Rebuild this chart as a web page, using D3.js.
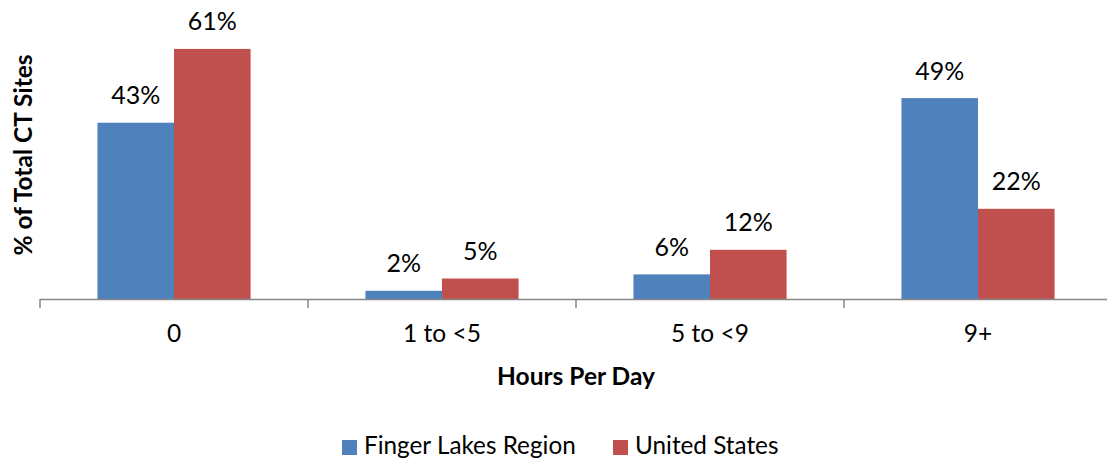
<!DOCTYPE html>
<html>
<head>
<meta charset="utf-8">
<script src="https://cdn.jsdelivr.net/npm/d3@7"></script>
<style>
  html, body { margin: 0; padding: 0; background: #fff; }
  svg { display: block; font-family: Lato, "Open Sans", sans-serif; }
</style>
</head>
<body>
<svg id="chart" width="1107" height="462"></svg>
<script>
// Share of CT sites by hours of use per day
const categories = ["0", "1 to <5", "5 to <9", "9+"];
const seriesNames = ["Finger Lakes Region", "United States"];
const fingerLakes = [43, 2, 6, 49];
const unitedStates = [61, 5, 12, 22];
const seriesColors = ["#4F81BD", "#C0504D"];

const svg = d3.select("#chart");

const x0 = d3.scaleBand().domain(categories).range([40, 1112]).paddingInner(0).paddingOuter(0);
const x1 = d3.scaleBand().domain(seriesNames).range([0, x0.bandwidth()]).paddingInner(0).paddingOuter(0.75);
const y = d3.scaleLinear().domain([0, 70]).range([299, 12]);

const rows = categories.map((c, i) => ({
  cat: c,
  values: [
    { name: seriesNames[0], v: fingerLakes[i], color: seriesColors[0] },
    { name: seriesNames[1], v: unitedStates[i], color: seriesColors[1] }
  ]
}));

const groups = svg.append("g").selectAll("g")
  .data(rows).join("g")
  .attr("transform", d => `translate(${x0(d.cat)},0)`);

groups.selectAll("rect")
  .data(d => d.values).join("rect")
  .attr("x", d => x1(d.name))
  .attr("y", d => y(d.v))
  .attr("width", x1.bandwidth())
  .attr("height", d => y(0) - y(d.v))
  .attr("fill", d => d.color);

groups.selectAll("text.val")
  .data(d => d.values).join("text")
  .attr("class", "val")
  .attr("x", d => x1(d.name) + x1.bandwidth() / 2)
  .attr("y", d => y(d.v) - 18.5)
  .attr("text-anchor", "middle")
  .attr("font-size", 25)
  .attr("fill", "#000")
  .text(d => d.v + "%");

// Category axis along the baseline, with ticks at the category boundaries
const axis = d3.axisBottom(x0).tickSize(0).tickPadding(0);
const gx = svg.append("g").attr("transform", `translate(0,${y(0)})`).call(axis);
gx.select(".domain").remove();
gx.selectAll("text")
  .attr("font-size", 24.5)
  .attr("font-family", "Lato, 'Open Sans', sans-serif")
  .attr("fill", "#000")
  .attr("dy", null)
  .attr("y", 43);

const edges = categories.map(c => x0(c)).concat([x0.range()[1]]);
svg.append("line")
  .attr("x1", x0.range()[0]).attr("x2", x0.range()[1])
  .attr("y1", y(0) + 0.5).attr("y2", y(0) + 0.5)
  .attr("stroke", "#868686").attr("stroke-width", 1.5);
svg.append("g").selectAll("line")
  .data(edges).join("line")
  .attr("x1", d => d).attr("x2", d => d)
  .attr("y1", y(0)).attr("y2", y(0) + 9)
  .attr("stroke", "#868686").attr("stroke-width", 1.5);

// Axis titles
svg.append("text")
  .attr("x", (x0.range()[0] + x0.range()[1]) / 2)
  .attr("y", 384.5)
  .attr("text-anchor", "middle")
  .attr("font-size", 24.5)
  .attr("font-weight", "bold")
  .text("Hours Per Day");

svg.append("text")
  .attr("transform", "translate(31.5,155) rotate(-90)")
  .attr("text-anchor", "middle")
  .attr("font-size", 24.5)
  .attr("font-weight", "bold")
  .text("% of Total CT Sites");

// Legend
const legendX = [342, 613];
const legend = svg.append("g").selectAll("g")
  .data(seriesNames).join("g")
  .attr("transform", (d, i) => `translate(${legendX[i]},440)`);
legend.append("rect")
  .attr("width", 15).attr("height", 15)
  .attr("fill", (d, i) => seriesColors[i]);
legend.append("text")
  .attr("x", 22).attr("y", 14)
  .attr("font-size", 24.3)
  .attr("fill", "#000")
  .text(d => d);
</script>
</body>
</html>
